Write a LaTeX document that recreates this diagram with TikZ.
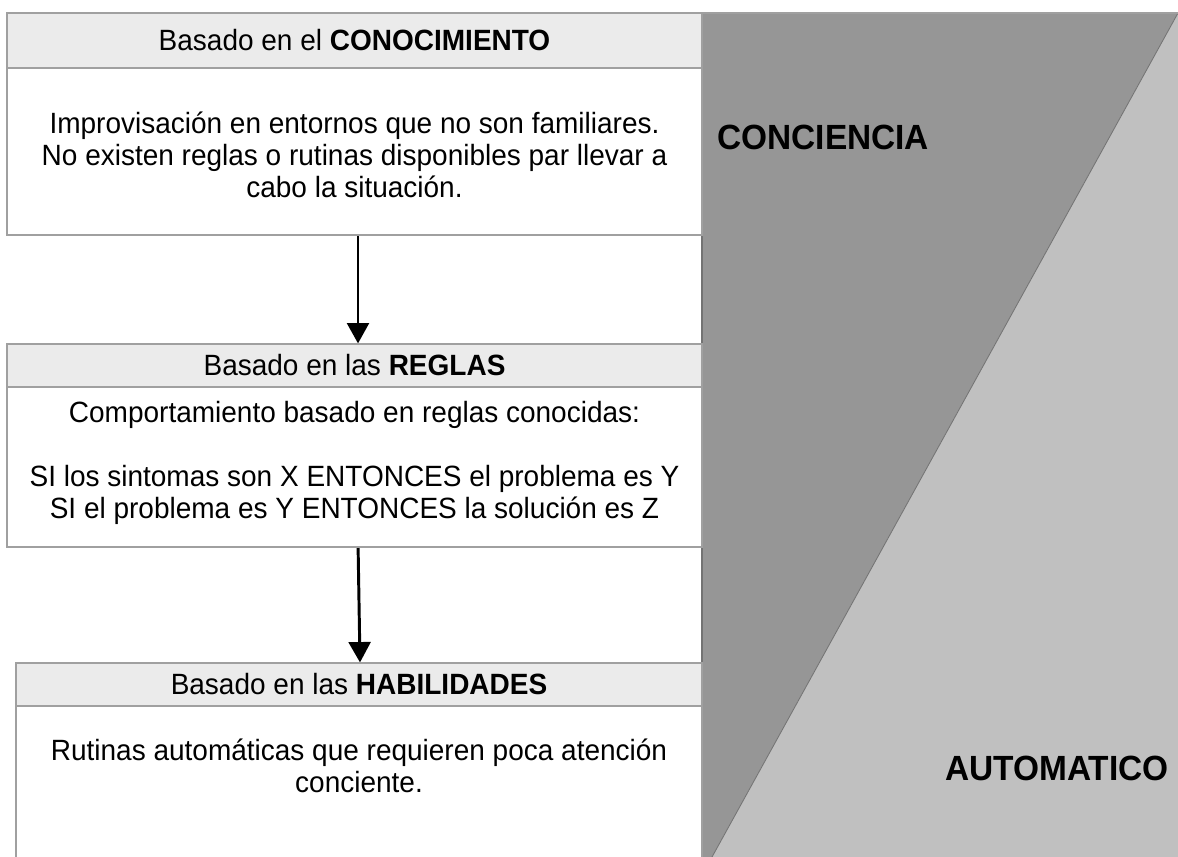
\documentclass[tikz,border=0pt]{standalone}
\usepackage{fontspec}
\setmainfont{Liberation Sans}[FakeStretch=0.955]
\usetikzlibrary{arrows.meta}
\pgfdeclarelayer{edgelayer}
\pgfdeclarelayer{nodelayer}
\pgfsetlayers{edgelayer,nodelayer,main}
\definecolor{headgray}{RGB}{235,235,235}
\definecolor{linegray}{RGB}{160,160,160}
\definecolor{darkband}{RGB}{150,150,150}
\definecolor{lightband}{RGB}{192,192,192}
\definecolor{edgegray}{RGB}{115,115,115}
\tikzstyle{none}=[inner sep=0pt]
\tikzstyle{header}=[rectangle,draw=linegray,fill=headgray,line width=0.8pt,inner sep=0pt,minimum width=17.375cm,minimum height=1.075cm,font=\fontsize{20.85}{22.8}\selectfont]
\tikzstyle{body}=[rectangle,draw=linegray,fill=white,line width=0.8pt,inner sep=0pt,minimum width=17.375cm]
\tikzstyle{bodytext}=[inner sep=0pt,align=center,font=\fontsize{20.85}{22.8}\selectfont]
\tikzstyle{level}=[inner sep=0pt,font=\fontsize{24.9}{28}\selectfont\bfseries]
\tikzstyle{transition}=[-{Triangle[length=14.5pt,width=15.5pt]},draw=black,line width=2.1pt]
\tikzstyle{simple}=[-,draw=edgegray,line width=0.6pt]

\begin{document}
\begin{tikzpicture}
	\useasboundingbox (0,0) rectangle (29.45,-21.425);
	\begin{pgfonlayer}{nodelayer}
		\node [style=header, minimum height=1.375cm] (0) at (8.8625, -1.0125) {Basado en el \textbf{CONOCIMIENTO}};
		\node [style=body, minimum height=4.175cm] (1) at (8.8625, -3.7875) {};
		\node [style=bodytext] (2) at (8.8625, -3.875) {Improvisación en entornos que no son familiares.\\No existen reglas o rutinas disponibles par llevar a\\cabo la situación.};
		\node [style=header] (3) at (8.8625, -9.1375) {Basado en las \textbf{REGLAS}};
		\node [style=body, minimum height=4cm] (4) at (8.8625, -11.675) {};
		\node [style=bodytext] (5) at (8.8625, -11.5625) {Comportamiento basado en reglas conocidas:\\[22.8pt]SI los sintomas son X ENTONCES el problema es Y\\SI el problema es Y ENTONCES la solución es Z};
		\node [style=header, minimum width=17.15cm] (6) at (8.975, -17.1125) {Basado en las \textbf{HABILIDADES}};
		\node [style=body, minimum width=17.15cm, minimum height=4.1cm] (7) at (8.975, -19.7) {};
		\node [style=bodytext] (8) at (8.975, -19.15) {Rutinas automáticas que requieren poca atención\\conciente.};
		\node [style=level, anchor=west] (9) at (17.925, -3.425) {CONCIENCIA};
		\node [style=level, anchor=east] (10) at (29.225, -19.2) {AUTOMATICO};
	\end{pgfonlayer}
	\begin{pgfonlayer}{edgelayer}
		\fill [white] (0,0) rectangle (29.45,-21.425);
		\fill [darkband] (17.55, -0.325) -- (29.45, -0.325) -- (17.8, -21.425) -- (17.55, -21.425) -- cycle;
		\fill [lightband] (29.45, -0.325) -- (29.45, -21.425) -- (17.8, -21.425) -- cycle;
		\draw [style=simple] (29.45, -0.325) -- (17.8, -21.425);
		\draw [draw=linegray, line width=0.8pt] (17.55, -0.325) -- (29.45, -0.325);
		\draw [draw=edgegray, line width=1pt] (17.55, -0.325) -- (17.55, -21.425);
		\draw [style=transition] ([xshift=0.0875cm]1.south) to ([xshift=0.0875cm]3.north);
		\draw [style=transition] ([xshift=0.09cm]4.south) to ([xshift=0.025cm]6.north);
	\end{pgfonlayer}
\end{tikzpicture}
\end{document}
